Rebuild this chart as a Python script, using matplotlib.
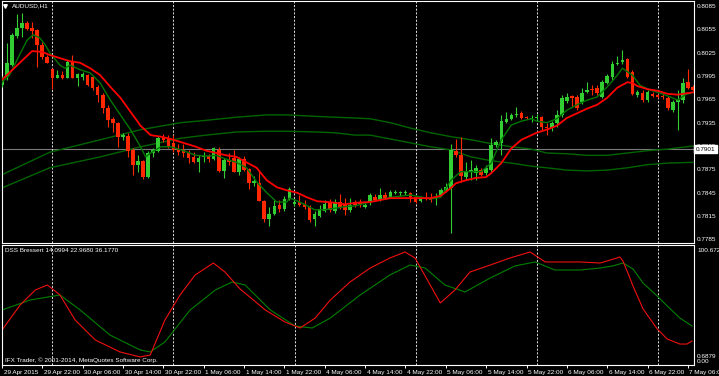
import matplotlib
matplotlib.use('Agg')
import matplotlib.pyplot as plt
from matplotlib.transforms import ScaledTranslation, blended_transform_factory

plt.rcParams['font.family'] = ['Liberation Sans', 'DejaVu Sans']

# AUDUSD H1 candles, bar 0 = 29 Apr 2015 14:00
opens = [0.7983, 0.7994, 0.8009, 0.8046, 0.8057, 0.8063, 0.8057, 0.8054, 0.8035, 0.8019,
         0.8004, 0.7992, 0.7996, 0.7992, 0.8014, 0.7992, 0.7994, 0.7996, 0.7994, 0.7981,
         0.7971, 0.7954, 0.7940, 0.7935, 0.7917, 0.7918, 0.7900, 0.7881, 0.7886, 0.7865,
         0.7896, 0.7899, 0.7917, 0.7915, 0.7909, 0.7901, 0.7900, 0.7896, 0.7891, 0.7884,
         0.7891, 0.7892, 0.7888, 0.7900, 0.7873, 0.7887, 0.7890, 0.7872, 0.7888, 0.7875,
         0.7857, 0.7857, 0.7834, 0.7811, 0.7818, 0.7829, 0.7824, 0.7837, 0.7830, 0.7833,
         0.7830, 0.7827, 0.7811, 0.7815, 0.7821, 0.7833, 0.7821, 0.7833, 0.7830, 0.7823,
         0.7832, 0.7833, 0.7827, 0.7833, 0.7839, 0.7836, 0.7842, 0.7839, 0.7845, 0.7845,
         0.7845, 0.7845, 0.7839, 0.7834, 0.7838, 0.7838, 0.7837, 0.7842, 0.7847, 0.7851,
         0.7899, 0.7893, 0.7865, 0.7873, 0.7870, 0.7874, 0.7870, 0.7874, 0.7906, 0.7909,
         0.7936, 0.7940, 0.7945, 0.7947, 0.7942, 0.7940, 0.7941, 0.7942, 0.7929, 0.7928,
         0.7935, 0.7945, 0.7963, 0.7969, 0.7968, 0.7962, 0.7974, 0.7978, 0.7980, 0.7968,
         0.7986, 0.7994, 0.8010, 0.8013, 0.8017, 0.8000, 0.7971, 0.7973, 0.7964, 0.7972,
         0.7971, 0.7969, 0.7967, 0.7951, 0.7962, 0.7964, 0.7987, 0.7981]
highs = [0.7995, 0.8037, 0.8050, 0.8075, 0.8076, 0.8066, 0.8064, 0.8055, 0.8039, 0.8022,
         0.8005, 0.8003, 0.8001, 0.8016, 0.8022, 0.7999, 0.8000, 0.7998, 0.7995, 0.7983,
         0.7973, 0.7958, 0.7942, 0.7936, 0.7922, 0.7922, 0.7902, 0.7893, 0.7887, 0.7899,
         0.7902, 0.7918, 0.7920, 0.7919, 0.7919, 0.7908, 0.7908, 0.7900, 0.7897, 0.7893,
         0.7897, 0.7895, 0.7904, 0.7904, 0.7890, 0.7896, 0.7900, 0.7891, 0.7892, 0.7877,
         0.7866, 0.7873, 0.7836, 0.7827, 0.7836, 0.7836, 0.7841, 0.7852, 0.7837, 0.7842,
         0.7836, 0.7829, 0.7821, 0.7829, 0.7836, 0.7837, 0.7837, 0.7843, 0.7838, 0.7838,
         0.7836, 0.7837, 0.7832, 0.7845, 0.7843, 0.7851, 0.7846, 0.7848, 0.7848, 0.7847,
         0.7848, 0.7846, 0.7841, 0.7841, 0.7846, 0.7845, 0.7845, 0.7851, 0.7857, 0.7908,
         0.7914, 0.7917, 0.7884, 0.7887, 0.7881, 0.7877, 0.7881, 0.7915, 0.7913, 0.7945,
         0.7949, 0.7947, 0.7955, 0.7950, 0.7944, 0.7945, 0.7946, 0.7944, 0.7935, 0.7937,
         0.7951, 0.7971, 0.7973, 0.7971, 0.7971, 0.7980, 0.7987, 0.7983, 0.7983, 0.7990,
         0.7998, 0.8014, 0.8021, 0.8028, 0.8018, 0.8003, 0.7977, 0.7977, 0.7977, 0.7974,
         0.7972, 0.7973, 0.7969, 0.7964, 0.7977, 0.7992, 0.8004, 0.7983]
lows = [0.7981, 0.7990, 0.8008, 0.8044, 0.8045, 0.8054, 0.8044, 0.8007, 0.8017, 0.8012,
        0.7978, 0.7992, 0.7991, 0.7992, 0.7992, 0.7982, 0.7990, 0.7982, 0.7977, 0.7962,
        0.7947, 0.7929, 0.7923, 0.7904, 0.7913, 0.7891, 0.7868, 0.7872, 0.7863, 0.7864,
        0.7891, 0.7897, 0.7910, 0.7902, 0.7897, 0.7893, 0.7891, 0.7883, 0.7883, 0.7872,
        0.7884, 0.7884, 0.7887, 0.7872, 0.7864, 0.7881, 0.7872, 0.7868, 0.7873, 0.7850,
        0.7854, 0.7834, 0.7807, 0.7802, 0.7816, 0.7820, 0.7821, 0.7836, 0.7828, 0.7828,
        0.7824, 0.7807, 0.7802, 0.7814, 0.7820, 0.7820, 0.7819, 0.7824, 0.7816, 0.7820,
        0.7827, 0.7827, 0.7825, 0.7829, 0.7834, 0.7834, 0.7837, 0.7838, 0.7843, 0.7841,
        0.7842, 0.7833, 0.7832, 0.7833, 0.7836, 0.7833, 0.7829, 0.7841, 0.7846, 0.7793,
        0.7891, 0.7859, 0.7861, 0.7861, 0.7861, 0.7866, 0.7868, 0.7872, 0.7904, 0.7893,
        0.7935, 0.7938, 0.7942, 0.7940, 0.7940, 0.7936, 0.7938, 0.7926, 0.7919, 0.7924,
        0.7929, 0.7942, 0.7960, 0.7955, 0.7951, 0.7959, 0.7973, 0.7971, 0.7971, 0.7967,
        0.7985, 0.7990, 0.8009, 0.8010, 0.7992, 0.7971, 0.7968, 0.7962, 0.7962, 0.7968,
        0.7967, 0.7965, 0.7951, 0.7949, 0.7926, 0.7960, 0.7978, 0.7976]
closes = [0.7990, 0.8012, 0.8048, 0.8057, 0.8063, 0.8055, 0.8053, 0.8035, 0.8019, 0.8012,
          0.7992, 0.7996, 0.7992, 0.8013, 0.7992, 0.7998, 0.7998, 0.7983, 0.7980, 0.7971,
          0.7954, 0.7938, 0.7935, 0.7917, 0.7919, 0.7899, 0.7881, 0.7886, 0.7865, 0.7896,
          0.7900, 0.7915, 0.7913, 0.7905, 0.7900, 0.7897, 0.7896, 0.7890, 0.7884, 0.7890,
          0.7892, 0.7888, 0.7902, 0.7873, 0.7887, 0.7884, 0.7872, 0.7888, 0.7874, 0.7857,
          0.7860, 0.7834, 0.7811, 0.7818, 0.7828, 0.7824, 0.7837, 0.7850, 0.7833, 0.7829,
          0.7827, 0.7810, 0.7818, 0.7824, 0.7830, 0.7823, 0.7833, 0.7827, 0.7823, 0.7829,
          0.7829, 0.7830, 0.7829, 0.7842, 0.7836, 0.7842, 0.7838, 0.7846, 0.7846, 0.7846,
          0.7846, 0.7839, 0.7833, 0.7838, 0.7837, 0.7836, 0.7838, 0.7848, 0.7852, 0.7900,
          0.7893, 0.7866, 0.7872, 0.7874, 0.7877, 0.7868, 0.7877, 0.7906, 0.7910, 0.7937,
          0.7940, 0.7945, 0.7946, 0.7941, 0.7941, 0.7941, 0.7942, 0.7929, 0.7928, 0.7935,
          0.7945, 0.7967, 0.7968, 0.7967, 0.7954, 0.7973, 0.7977, 0.7977, 0.7973, 0.7987,
          0.7995, 0.8010, 0.8012, 0.8016, 0.7994, 0.7972, 0.7974, 0.7964, 0.7974, 0.7969,
          0.7968, 0.7968, 0.7954, 0.7962, 0.7964, 0.7986, 0.7980, 0.7977]

# slow moving average (red), read at bar positions
slow_x = [0, 6, 8, 9.5, 11.5, 13.5, 15.5, 17.5, 19.5, 21.5, 23.5, 25.5, 27.5, 29.5, 31.5, 33.5,
          35.5, 38.5, 40.5, 42.5, 44.5, 46.5, 48.5, 50.5, 52.5, 54.5, 56.5, 58.5, 60.5, 62.5,
          64.5, 66, 68, 70, 73, 77, 81, 85, 87, 89, 90, 92, 94, 96, 97, 99, 101, 103, 105, 106,
          108, 110, 112, 114, 116, 118, 120, 122, 124, 125, 126, 128, 130, 132, 134, 136, 137]
slow_y = [0.7990, 0.8027, 0.8026, 0.8022, 0.8018, 0.8014, 0.8012, 0.8005, 0.7996, 0.7981,
          0.7967, 0.7949, 0.7931, 0.7919, 0.7917, 0.7914, 0.7910, 0.7904, 0.7899, 0.7896,
          0.7893, 0.7891, 0.7884, 0.7877, 0.7861, 0.7852, 0.7848, 0.7845, 0.7839, 0.7834,
          0.7833, 0.7832, 0.7830, 0.7832, 0.7833, 0.7838, 0.7838, 0.7838, 0.7841, 0.7851,
          0.7857, 0.7861, 0.7864, 0.7865, 0.7870, 0.7883, 0.7902, 0.7913, 0.7919, 0.7922,
          0.7926, 0.7931, 0.7941, 0.7947, 0.7953, 0.7958, 0.7967, 0.7980, 0.7987, 0.7986,
          0.7982, 0.7978, 0.7976, 0.7972, 0.7971, 0.7973, 0.7974]

# fast moving average (dark green)
fast_x = [0, 1.5, 3.5, 5, 6.2, 7.5, 8.5, 9.5, 11.5, 12.5, 13.5, 15.5, 17.5, 19.5, 21.5, 23.5,
          25.5, 27.5, 28.5, 29.5, 31.5, 33.5, 35.5, 38.5, 40.5, 42.5, 44.5, 46.5, 48.5, 50.5,
          52.5, 54.5, 56.5, 57, 58, 60, 62, 64, 66, 68, 70, 73, 77, 81, 85, 87, 89, 91, 93, 95,
          97, 99, 101, 103, 105, 106, 108, 110, 112, 114, 116, 118, 120, 122, 123, 125, 126.5,
          128.5, 130.5, 132.5, 134, 135.5, 137]
fast_y = [0.7987, 0.7996, 0.8022, 0.8041, 0.8048, 0.8044, 0.8036, 0.8025, 0.8009, 0.8005,
          0.8009, 0.8003, 0.7999, 0.7986, 0.7964, 0.7945, 0.7926, 0.7904, 0.7891, 0.7896,
          0.7904, 0.7904, 0.7900, 0.7893, 0.7892, 0.7893, 0.7888, 0.7884, 0.7877, 0.7859,
          0.7845, 0.7833, 0.7833, 0.7838, 0.7836, 0.7830, 0.7823, 0.7823, 0.7825, 0.7827,
          0.7828, 0.7833, 0.7839, 0.7842, 0.7837, 0.7839, 0.7861, 0.7872, 0.7872, 0.7872,
          0.7883, 0.7913, 0.7932, 0.7937, 0.7940, 0.7937, 0.7935, 0.7940, 0.7951, 0.7958,
          0.7964, 0.7968, 0.7981, 0.7996, 0.8005, 0.7996, 0.7983, 0.7977, 0.7973, 0.7968,
          0.7964, 0.7971, 0.7974]

# long-period envelope (two green lines)
band_x = [0, 9.5, 19.5, 27.5, 35.5, 40.5, 46.5, 52.5, 56.5, 62.5, 66, 70, 73, 77, 81, 85, 89,
          93, 97, 101, 105, 108, 112, 116, 120, 124, 128, 132, 137]
band_upper = [0.7868, 0.7897, 0.7913, 0.7926, 0.7935, 0.7938, 0.7942, 0.7945, 0.7945, 0.7943,
              0.7942, 0.7941, 0.7940, 0.7935, 0.7928, 0.7922, 0.7917, 0.7913, 0.7908, 0.7904,
              0.7901, 0.7896, 0.7895, 0.7893, 0.7893, 0.7896, 0.7899, 0.7901, 0.7905]
band_lower = [0.7851, 0.7877, 0.7891, 0.7904, 0.7915, 0.7919, 0.7923, 0.7924, 0.7924, 0.7923,
              0.7922, 0.7919, 0.7919, 0.7914, 0.7909, 0.7904, 0.7900, 0.7891, 0.7886, 0.7883,
              0.7879, 0.7877, 0.7874, 0.7873, 0.7874, 0.7877, 0.7881, 0.7883, 0.7884]

bid = 0.7901

# DSS Bressert sub-window
dss_red_x = [0, 3.6, 6.6, 9, 11.5, 14.5, 18.5, 23.4, 27.4, 29.4, 32.3, 35.3, 38.3, 41.9, 44.2,
             47.2, 52.2, 56.1, 59.1, 62.1, 65.1, 69, 73, 76.9, 79.9, 81.9, 84.9, 86.9, 89.8,
             92.8, 96.8, 100.7, 104.7, 107.7, 110.6, 114.6, 118.6, 121.9, 122.5, 123.1, 124.1,
             125.1, 127.1, 129.9, 131.9, 134.4, 135.8, 136.8]
dss_red = [28.4, 49.9, 62.8, 67.1, 58.5, 37.0, 19.8, 9.5, 5.2, 6.9, 37.0, 58.5, 75.7, 86.0, 78.3,
           63.7, 45.6, 35.3, 30.1, 38.7, 54.2, 69.7, 81.7, 90.3, 95.5, 90.3, 67.1, 51.6, 62.8,
           78.3, 84.3, 90.3, 95.5, 86.9, 86.9, 86.9, 86.0, 90.3, 91.2, 87.8, 77.4, 66.3, 46.5,
           29.3, 20.6, 16.3, 16.3, 18.9]
dss_green_x = [0, 5.6, 11.5, 15.5, 21.4, 27.4, 29.4, 32.3, 37.3, 42.3, 45.6, 48.2, 53.2, 58.1,
               61.5, 65.1, 71, 76.9, 80.9, 83.9, 87.8, 91.8, 96.8, 101.7, 105.7, 109.6, 114.6,
               118.6, 121.1, 123.1, 125.1, 127.1, 129.9, 131.9, 134.4, 136.8]
dss_green = [45.6, 54.2, 58.5, 45.6, 24.1, 11.2, 9.5, 18.1, 45.6, 62.8, 69.7, 67.1, 45.6, 31.8,
             30.1, 38.7, 58.5, 75.7, 84.3, 81.7, 67.1, 61.1, 73.1, 83.5, 86.9, 80.0, 80.0, 81.7,
             83.5, 86.0, 80.9, 68.8, 57.6, 49.0, 38.7, 31.8]

price_ticks = [0.8085, 0.8055, 0.8025, 0.7995, 0.7965, 0.7935, 0.7905, 0.7875, 0.7845, 0.7815, 0.7785]
day_breaks = [10, 34, 58, 82, 106, 130]
time_pos = [0, 8, 16, 24, 32, 40, 48, 56, 64, 72, 80, 88, 96, 104, 112, 120, 128, 136]
time_labels = ['29 Apr 2015', '29 Apr 22:00', '30 Apr 06:00', '30 Apr 14:00', '30 Apr 22:00',
               '1 May 06:00', '1 May 14:00', '1 May 22:00', '4 May 06:00', '4 May 14:00',
               '4 May 22:00', '5 May 06:00', '5 May 14:00', '5 May 22:00', '6 May 06:00',
               '6 May 14:00', '6 May 22:00', '7 May 06:00']

W, H = 719, 376
FS = 4.6
fig = plt.figure(figsize=(W / 100, H / 100), dpi=100, facecolor='black')
ax = fig.add_axes([2 / W, (H - 243) / H, 692 / W, 242 / H], facecolor='black')
ax2 = fig.add_axes([2 / W, (H - 365) / H, 692 / W, 120 / H], facecolor='black')

# candles
up_col, down_col = '#32cd32', '#ff2800'
idx = list(range(len(closes)))
cols = [up_col if c >= o else down_col for o, c in zip(opens, closes)]
ax.vlines(idx, lows, highs, colors=cols, lw=0.8, zorder=3)
bodies = [max(abs(c - o), 0.0001) for o, c in zip(opens, closes)]
bottoms = [min(o, c) for o, c in zip(opens, closes)]
ax.bar(idx, bodies, bottom=bottoms, width=0.7, color=cols, lw=0, zorder=4)

# indicator lines
ax.plot(band_x, band_upper, color='#006400', lw=1.0, zorder=2)
ax.plot(band_x, band_lower, color='#006400', lw=1.0, zorder=2)
ax.plot(fast_x, fast_y, color='#007800', lw=1.0, zorder=5)
ax.plot(slow_x, slow_y, color='#ff0000', lw=1.3, zorder=6)
ax.axhline(bid, color='#7a7a7a', lw=0.8, zorder=1)

for a in (ax, ax2):
    for s in day_breaks:
        a.axvline(s, color='#d8d8d8', lw=0.7, ls=(0, (2.2, 1.6)), zorder=1)
    a.set_xlim(0.03, 137.2)
    for sp in a.spines.values():
        sp.set_color('white')
        sp.set_linewidth(0.8)

ax.set_ylim(0.77803, 0.80914)
ax.yaxis.tick_right()
ax.set_yticks(price_ticks)
ax.set_yticklabels(['%.4f' % p for p in price_ticks])
ax.tick_params(axis='y', length=0, pad=2.2, labelsize=FS, labelcolor='white')
ax.set_xticks([])

btr = blended_transform_factory(ax.transAxes, ax.transData)
ax.text(1.0025, bid, '%.4f' % bid, transform=btr, ha='left', va='center', fontsize=FS,
        color='black', zorder=10, clip_on=False,
        bbox=dict(boxstyle='square,pad=0.25', fc='white', ec='white'))

# DSS sub-window
ax2.plot(dss_green_x, dss_green, color='#008000', lw=0.8)
ax2.plot(dss_red_x, dss_red, color='#f01010', lw=0.8)
ax2.set_ylim(-1.72, 101.5)
ax2.set_yticks([])
ax2.set_xticks(time_pos)
ax2.set_xticklabels(time_labels, ha='left')
ax2.tick_params(axis='x', direction='out', length=2.5, width=0.7, color='white',
                labelsize=FS, labelcolor='white', pad=1)
for lbl in ax2.get_xticklabels():
    lbl.set_transform(lbl.get_transform() + ScaledTranslation(0.015, 0, fig.dpi_scale_trans))

def ftext(x, y, s, **kw):
    fig.text(x / W, 1 - y / H, s, fontsize=FS, color='white', va='center', ha='left', **kw)

ftext(12, 6, 'AUDUSD,H1')
ax.plot([5 / W], [1 - 6 / H], marker='v', ms=2.6, color='white', transform=fig.transFigure,
        clip_on=False)
ftext(5, 251, 'DSS Bressert 14.0994 22.9680 36.1770')
ftext(5, 360, 'IFX Trader, \u00a9 2001-2014, MetaQuotes Software Corp.')
ftext(697, 250, '100.6721')
ftext(697, 357, '0.6879')
ftext(697, 361.5, '0.00')

fig.savefig('out.png', dpi=100, facecolor='black')
